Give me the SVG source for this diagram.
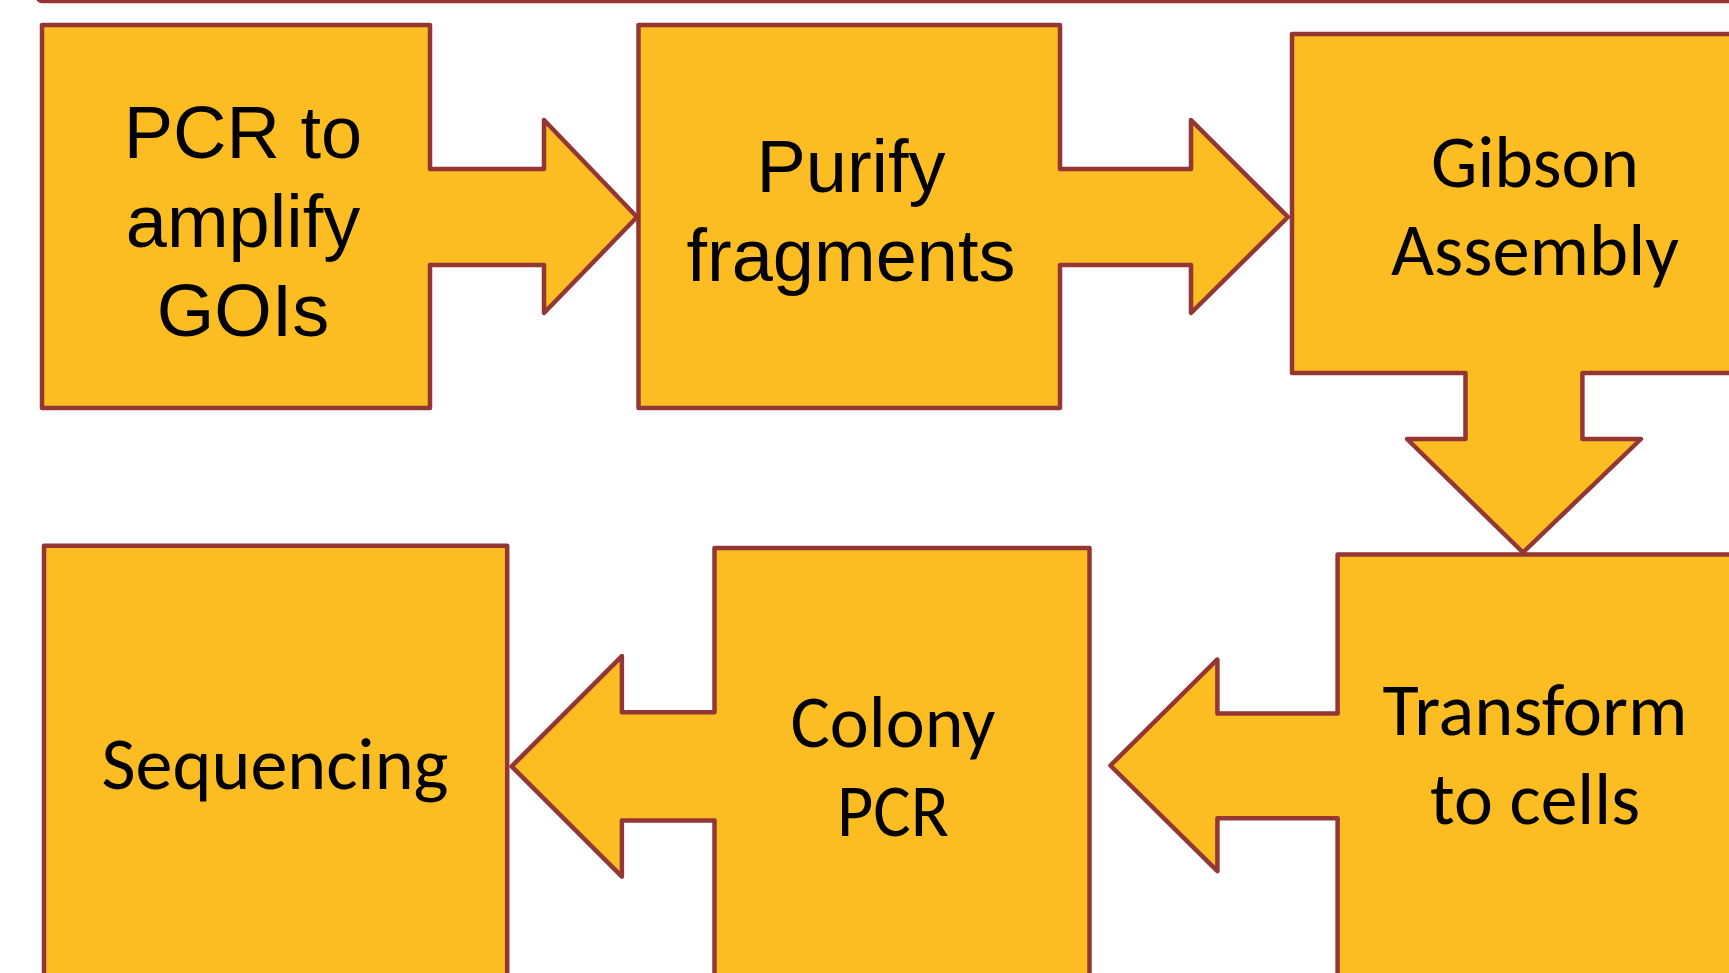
<svg xmlns="http://www.w3.org/2000/svg" width="1729" height="973" viewBox="0 0 1729 973">
<style>
.shape{fill:#FCBD22;stroke:#943634;stroke-width:4.5;stroke-linejoin:round;stroke-linecap:round}
.fillonly{fill:#FCBD22;stroke:none}
.line{fill:none;stroke:#943634;stroke-width:4.5;stroke-linejoin:round;stroke-linecap:round}
.arial{font-family:"Liberation Sans",Arial,sans-serif;font-size:74px;fill:#000;text-anchor:middle}
.cal{font-family:Carlito,Lato,"Open Sans",sans-serif;font-size:74px;fill:#000;text-anchor:middle}
</style>
<rect x="0" y="0" width="1729" height="973" fill="#fff"/>
<rect x="38" y="-100" width="1760" height="101" rx="4" fill="none" stroke="#943634" stroke-width="4.5"/>
<g id="n1">
<path class="shape" d="M430,169 L430,25 L42,25 L42,408 L430,408 L430,265"/>
<text class="arial" x="243" y="158">PCR to</text>
<text class="arial" x="243" y="247">amplify</text>
<text class="arial" x="243" y="336">GOIs</text>
</g>
<g id="n2">
<path class="shape" d="M1060,169 L1060,25 L638.5,25 L638.5,408 L1060,408 L1060,265"/>
<text class="arial" x="851" y="192">Purify</text>
<text class="arial" x="851" y="281">fragments</text>
</g>
<g id="n3">
<path class="shape" d="M1465.5,373 L1292,373 L1292,34 L1778,34 L1778,373 L1582.4,373"/>
<text class="cal" x="1535" y="187" textLength="208" lengthAdjust="spacingAndGlyphs">Gibson</text>
<text class="cal" x="1535" y="275" textLength="288" lengthAdjust="spacingAndGlyphs">Assembly</text>
</g>
<g id="n4">
<path class="shape" d="M1337.6,713.4 L1337.6,554.6 L1745,554.6 L1745,985 L1337.6,985 L1337.6,818.2"/>
<text class="cal" x="1535" y="735" textLength="305" lengthAdjust="spacingAndGlyphs">Transform</text>
<text class="cal" x="1535" y="824" textLength="210" lengthAdjust="spacingAndGlyphs">to cells</text>
</g>
<g id="n5">
<path class="shape" d="M714.5,712.3 L714.5,548 L1089.5,548 L1089.5,990 L714.5,990 L714.5,820.4"/>
<text class="cal" x="893" y="747" textLength="205" lengthAdjust="spacingAndGlyphs">Colony</text>
<text class="cal" x="893" y="836" textLength="112" lengthAdjust="spacingAndGlyphs">PCR</text>
</g>
<g id="n6">
<path class="shape" d="M44,545.8 L507.2,545.8 L507.2,990 L44,990 Z"/>
<text class="cal" x="275" y="789" textLength="347" lengthAdjust="spacingAndGlyphs">Sequencing</text>
</g>
<g id="connectors">
<path class="fillonly" d="M424,169 L544,169 L544,120 L637,217 L544,313 L544,265 L424,265 Z"/>
<path class="line" d="M430,169 L544,169 L544,120 L637,217 L544,313 L544,265 L430,265"/>
<path class="fillonly" d="M1054,169 L1191,169 L1191,120 L1288,217 L1191,313 L1191,265 L1054,265 Z"/>
<path class="line" d="M1060,169 L1191,169 L1191,120 L1288,217 L1191,313 L1191,265 L1060,265"/>
<path class="fillonly" d="M1465.5,367 L1465.5,439 L1407,439 L1523,552.5 L1641,439 L1582.4,439 L1582.4,367 Z"/>
<path class="line" d="M1465.5,373 L1465.5,439 L1407,439 L1523,552.5 L1641,439 L1582.4,439 L1582.4,373"/>
<path class="fillonly" d="M1344,713.4 L1217.4,713.4 L1217.4,659.4 L1110.4,765.5 L1217.4,871.1 L1217.4,818.2 L1344,818.2 Z"/>
<path class="line" d="M1337.6,713.4 L1217.4,713.4 L1217.4,659.4 L1110.4,765.5 L1217.4,871.1 L1217.4,818.2 L1337.6,818.2"/>
<path class="fillonly" d="M721,712.3 L621.9,712.3 L621.9,656.1 L511.6,766.4 L621.9,876.6 L621.9,820.4 L721,820.4 Z"/>
<path class="line" d="M714.5,712.3 L621.9,712.3 L621.9,656.1 L511.6,766.4 L621.9,876.6 L621.9,820.4 L714.5,820.4"/>
</g>
</svg>
